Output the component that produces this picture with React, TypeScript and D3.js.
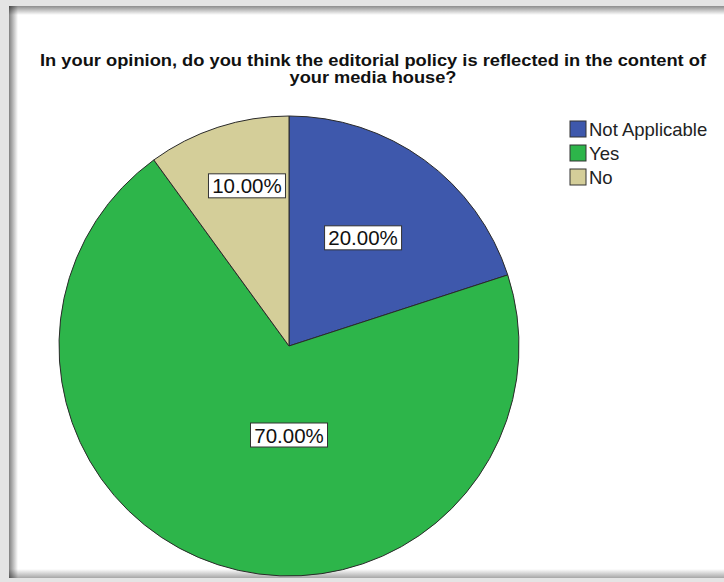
import React from "react";
import * as d3 from "d3";

const categories = ["Not Applicable", "Yes", "No"];
const values = [20, 70, 10];
const labels = ["20.00%", "70.00%", "10.00%"];
const colors = ["#3e58ac", "#2db54a", "#d4ce99"];
const titleLines = [
  "In your opinion, do you think the editorial policy is reflected in the content of",
  "your media house?",
];
const titleWidths = [666, 167];
// label placement (polar, relative to pie): angle in degrees, radius fraction
const labelAngles = [34.4, 180, 345.3];
const labelRadii = [0.57, 0.387, 0.72];

const W = 724;
const H = 582;

export default function App() {
  const cx = 289;
  const cy = 346;
  const r = 230;
  const pie = d3.pie<number>().sort(null).value((d) => d)(values);
  const arc = d3.arc<d3.PieArcDatum<number>>().innerRadius(0).outerRadius(r);

  const boxW = 77;
  const boxH = 24;

  return (
    <svg
      width={W}
      height={H}
      style={{ position: "absolute", left: 0, top: 0 }}
      fontFamily="'Liberation Sans', Arial, sans-serif"
    >
      <defs>
        <linearGradient id="gl" x1="0" x2="1" y1="0" y2="0">
          <stop offset="0" stopColor="#000" stopOpacity="0.5" />
          <stop offset="1" stopColor="#000" stopOpacity="0" />
        </linearGradient>
        <linearGradient id="gt" x1="0" x2="0" y1="0" y2="1">
          <stop offset="0" stopColor="#000" stopOpacity="0.45" />
          <stop offset="1" stopColor="#000" stopOpacity="0" />
        </linearGradient>
        <linearGradient id="gb" x1="0" x2="0" y1="1" y2="0">
          <stop offset="0" stopColor="#000" stopOpacity="0.35" />
          <stop offset="1" stopColor="#000" stopOpacity="0" />
        </linearGradient>
      </defs>
      <rect x={0} y={0} width={W} height={H} fill="#e4e4e4" />
      <rect x={9} y={6} width={W - 9} height={572} fill="#fff" />
      <rect x={9} y={6} width={9} height={572} fill="url(#gl)" />
      <rect x={9} y={6} width={W - 9} height={9} fill="url(#gt)" />
      <rect x={9} y={569} width={W - 9} height={9} fill="url(#gb)" />

      {titleLines.map((t, i) => (
        <text
          key={i}
          x={373}
          y={66 + i * 17}
          textAnchor="middle"
          fontWeight="bold"
          fontSize={16}
          fill="#111"
          textLength={titleWidths[i]}
          lengthAdjust="spacingAndGlyphs"
        >
          {t}
        </text>
      ))}

      <g transform={`translate(${cx},${cy})`}>
        {pie.map((p, i) => (
          <path
            key={i}
            d={arc(p) || ""}
            fill={colors[i]}
            stroke="#2a2a2a"
            strokeWidth={1}
          />
        ))}
        {pie.map((p, i) => {
          const a = (labelAngles[i] * Math.PI) / 180;
          const lx = Math.sin(a) * r * labelRadii[i];
          const ly = -Math.cos(a) * r * labelRadii[i];
          return (
            <g key={"l" + i} transform={`translate(${lx},${ly})`}>
              <rect
                x={-boxW / 2}
                y={-boxH / 2}
                width={boxW}
                height={boxH}
                fill="#fff"
                stroke="#333"
                strokeWidth={1}
              />
              <text
                x={0}
                y={7.5}
                textAnchor="middle"
                fontSize={20.5}
                fill="#111"
              >
                {labels[i]}
              </text>
            </g>
          );
        })}
      </g>

      {categories.map((c, i) => (
        <g key={c} transform={`translate(570,${121 + i * 24})`}>
          <rect x={0} y={0} width={16} height={16} fill={colors[i]} stroke="#333" strokeWidth={1} />
          <text x={19} y={15} fontSize={18.5} fill="#222">
            {c}
          </text>
        </g>
      ))}
    </svg>
  );
}
